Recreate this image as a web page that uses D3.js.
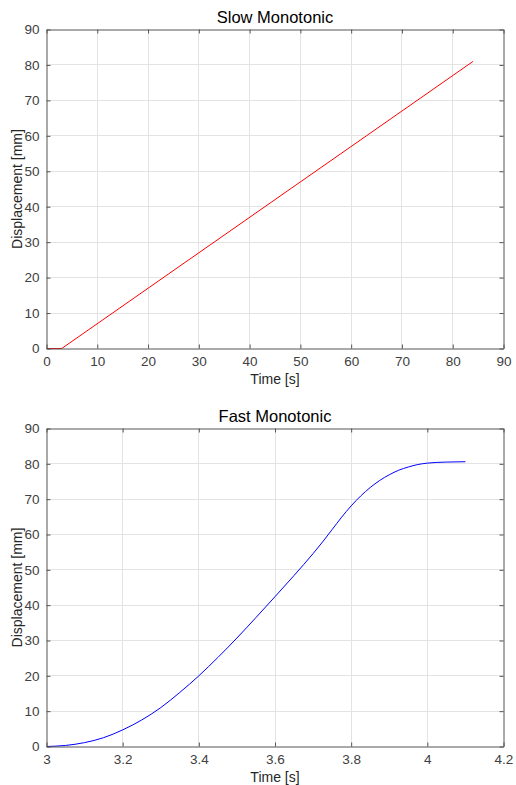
<!DOCTYPE html>
<html><head><meta charset="utf-8">
<script src="https://cdn.jsdelivr.net/npm/d3@7"></script>
<style>body{margin:0;background:#fff}svg{display:block}</style>
</head><body>
<svg id="c" width="516" height="785"></svg>
<script>
const slowTime = [0, 3, 84];
const slowDisp = [0, 0, 81];
const fastTime = [3.0, 3.05, 3.1, 3.15, 3.2, 3.25, 3.3, 3.35, 3.4, 3.45, 3.5, 3.55, 3.6, 3.65, 3.7, 3.725, 3.75, 3.775, 3.8, 3.825, 3.85, 3.875, 3.9, 3.925, 3.95, 3.975, 4.0, 4.05, 4.1];
const fastDisp = [0, 0.3, 1.1, 2.5, 4.7, 7.5, 11.0, 15.3, 20, 25.2, 30.7, 36.5, 42.4, 48.4, 54.6, 57.9, 61.4, 64.9, 68.1, 70.9, 73.3, 75.3, 76.9, 78.2, 79.1, 79.8, 80.2, 80.5, 80.6];
const slowXTicks = [0,10,20,30,40,50,60,70,80,90];
const fastXTicks = [3,3.2,3.4,3.6,3.8,4,4.2];
const yTicks = [0,10,20,30,40,50,60,70,80,90];

const svg = d3.select("#c");
const font = "Helvetica, Arial, 'Liberation Sans', sans-serif";

function panel(cfg){
  const {x0,x1,y0,y1,xd,yd,xt,title,xs,ys,color,curve} = cfg;
  const x = d3.scaleLinear().domain(xd).range([x0,x1]);
  const y = d3.scaleLinear().domain(yd).range([y1,y0]);
  const g = svg.append("g");
  g.selectAll(null).data(xt.slice(1,-1)).join("line")
    .attr("x1",d=>x(d)).attr("x2",d=>x(d)).attr("y1",y0).attr("y2",y1)
    .attr("stroke","#e3e3e3").attr("stroke-width",1).attr("shape-rendering","crispEdges");
  g.selectAll(null).data(yTicks.slice(1,-1)).join("line")
    .attr("y1",d=>y(d)).attr("y2",d=>y(d)).attr("x1",x0).attr("x2",x1)
    .attr("stroke","#e3e3e3").attr("stroke-width",1).attr("shape-rendering","crispEdges");
  const line = d3.line().x((d,i)=>x(xs[i])).y((d,i)=>y(ys[i])).curve(curve);
  g.append("path").datum(xs).attr("d",line).attr("fill","none")
    .attr("stroke",color).attr("stroke-width",1);
  const tl = 4;
  const axB = d3.axisBottom(x).tickValues(xt).tickSizeInner(-tl).tickSizeOuter(0).tickPadding(8).tickFormat(d3.format("~g"));
  const axT = d3.axisTop(x).tickValues(xt).tickSizeInner(-tl).tickSizeOuter(0).tickFormat("");
  const axL = d3.axisLeft(y).tickValues(yTicks).tickSizeInner(-tl).tickSizeOuter(0).tickPadding(7);
  const axR = d3.axisRight(y).tickValues(yTicks).tickSizeInner(-tl).tickSizeOuter(0).tickFormat("");
  const style = s => {
    s.selectAll("path.domain").attr("stroke","#555").attr("stroke-width",1);
    s.selectAll(".tick line").attr("stroke","#555");
    s.selectAll(".tick text").attr("fill","#404040").attr("font-size",13.5).attr("font-family",font);
  };
  g.append("g").attr("transform",`translate(0,${y1})`).call(axB).call(style);
  g.append("g").attr("transform",`translate(0,${y0})`).call(axT).call(style);
  g.append("g").attr("transform",`translate(${x0},0)`).call(axL).call(style);
  g.append("g").attr("transform",`translate(${x1},0)`).call(axR).call(style);
  g.append("text").attr("x",(x0+x1)/2).attr("y",y0-7).attr("text-anchor","middle")
    .attr("font-size",16.5).attr("font-family",font).attr("fill","#000").text(title);
  g.append("text").attr("x",(x0+x1)/2).attr("y",y1+35).attr("text-anchor","middle")
    .attr("font-size",14).attr("font-family",font).attr("fill","#262626").text("Time [s]");
  g.append("text").attr("transform",`translate(22,${(y0+y1)/2}) rotate(-90)`).attr("text-anchor","middle")
    .attr("font-size",14).attr("font-family",font).attr("fill","#262626").text("Displacement [mm]");
}

panel({x0:46.5,x1:503.5,y0:29.5,y1:348.5,xd:[0,90],yd:[0,90],xt:slowXTicks,title:"Slow Monotonic",
  xs:slowTime,ys:slowDisp,color:"#ff0000",curve:d3.curveLinear});
panel({x0:46.5,x1:503.5,y0:428.5,y1:746.5,xd:[3,4.2],yd:[0,90],xt:fastXTicks,title:"Fast Monotonic",
  xs:fastTime,ys:fastDisp,color:"#0000ff",curve:d3.curveMonotoneX});
</script>
</body></html>
